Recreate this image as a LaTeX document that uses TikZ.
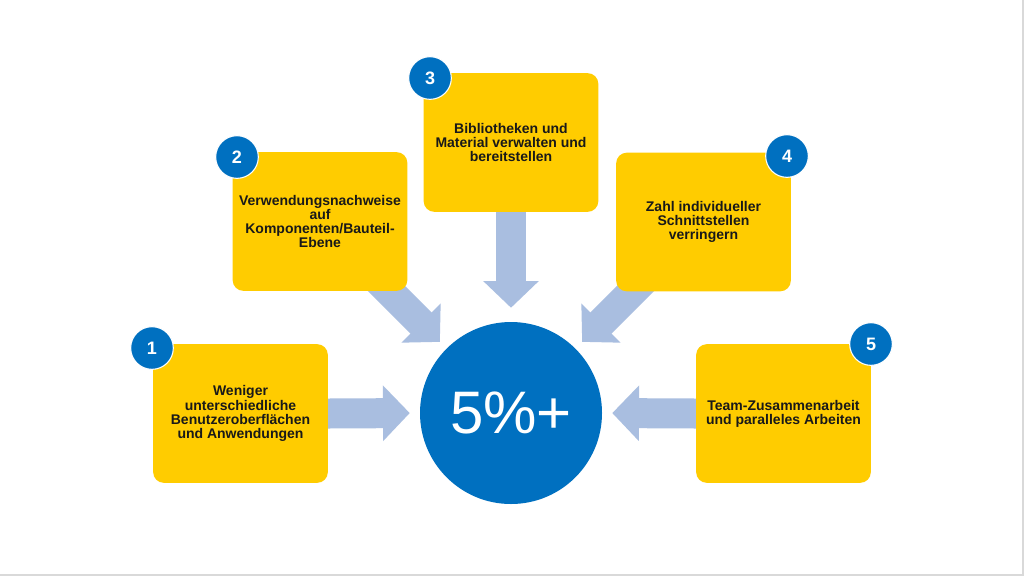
\documentclass[tikz,border=0pt]{standalone}
\usepackage{fontspec}
\setmainfont{Liberation Sans}
\usetikzlibrary{calc, arrows.meta, backgrounds}

\definecolor{boxyellow}{RGB}{255,204,0}
\definecolor{hubblue}{RGB}{0,112,192}
\definecolor{flowblue}{RGB}{169,190,224}
\definecolor{framegray}{RGB}{217,217,217}

\tikzset{
    field/.style={fill=boxyellow, rounded corners=8pt, minimum width=131pt, minimum height=104pt,
        align=center, text=black!90, font=\bfseries\fontsize{10.5}{10.6}\selectfont},
    badge/.style={circle, fill=hubblue, draw=white, line width=0.8pt, minimum size=32pt,
        inner sep=0pt, text=white, font=\bfseries\fontsize{13.5}{13.5}\selectfont},
    hubnode/.style={circle, fill=hubblue, minimum size=136.5pt, inner sep=0pt,
        text=white, font=\fontsize{45}{45}\selectfont},
    flow/.style={draw=flowblue, line width=22.5pt, -{Triangle[length=20pt, width=40.5pt]}}
}

\begin{document}
\begin{tikzpicture}[x=0.75pt, y=-0.75pt]
        \useasboundingbox (0,0) rectangle (1024,576);
        % centre and the five fields
        \node[hubnode] (hub) at (511,413) {5\%+};
        \node[field] (b1) at (240.5,413.5) {Weniger\\unterschiedliche\\Benutzeroberflächen\\und Anwendungen};
        \node[field] (b2) at (320,221.5) {Verwendungsnachweise\\auf\\Komponenten/Bauteil-\\Ebene};
        \node[field] (b3) at (511,142.5) {Bibliotheken und\\Material verwalten und\\bereitstellen};
        \node[field] (b4) at (703.5,222) {Zahl individueller\\Schnittstellen\\verringern};
        \node[field] (b5) at (783.5,413.5) {Team-Zusammenarbeit\\und paralleles Arbeiten};
        \foreach \pos/\num in {{(152,348)}/1, {(237,157)}/2, {(430,78)}/3, {(787,156)}/4, {(871,344)}/5} {
            \node[badge] (n\num) at \pos {\num};
        }
        % arrows behind the fields
        \begin{scope}[on background layer]
            \fill[white] (0,0) rectangle (1024,576);
            \fill[framegray] (1022,0) rectangle (1024,576);
            \fill[framegray] (0,574) rectangle (1024,576);
            \draw[flow, shorten >=7.5pt] (b1.east) -- (hub.west);
            \draw[flow, shorten >=7.5pt] (b5.west) -- (hub.east);
            \draw[flow, shorten >=10.5pt] (b3.south) -- (hub.north);
            \draw[flow, shorten >=7pt] ($(hub.135)+(-77,-77)$) -- (hub.135);
            \draw[flow, shorten >=7pt] ($(hub.45)+(77,-77)$) -- (hub.45);
        \end{scope}
    \end{tikzpicture}
\end{document}
